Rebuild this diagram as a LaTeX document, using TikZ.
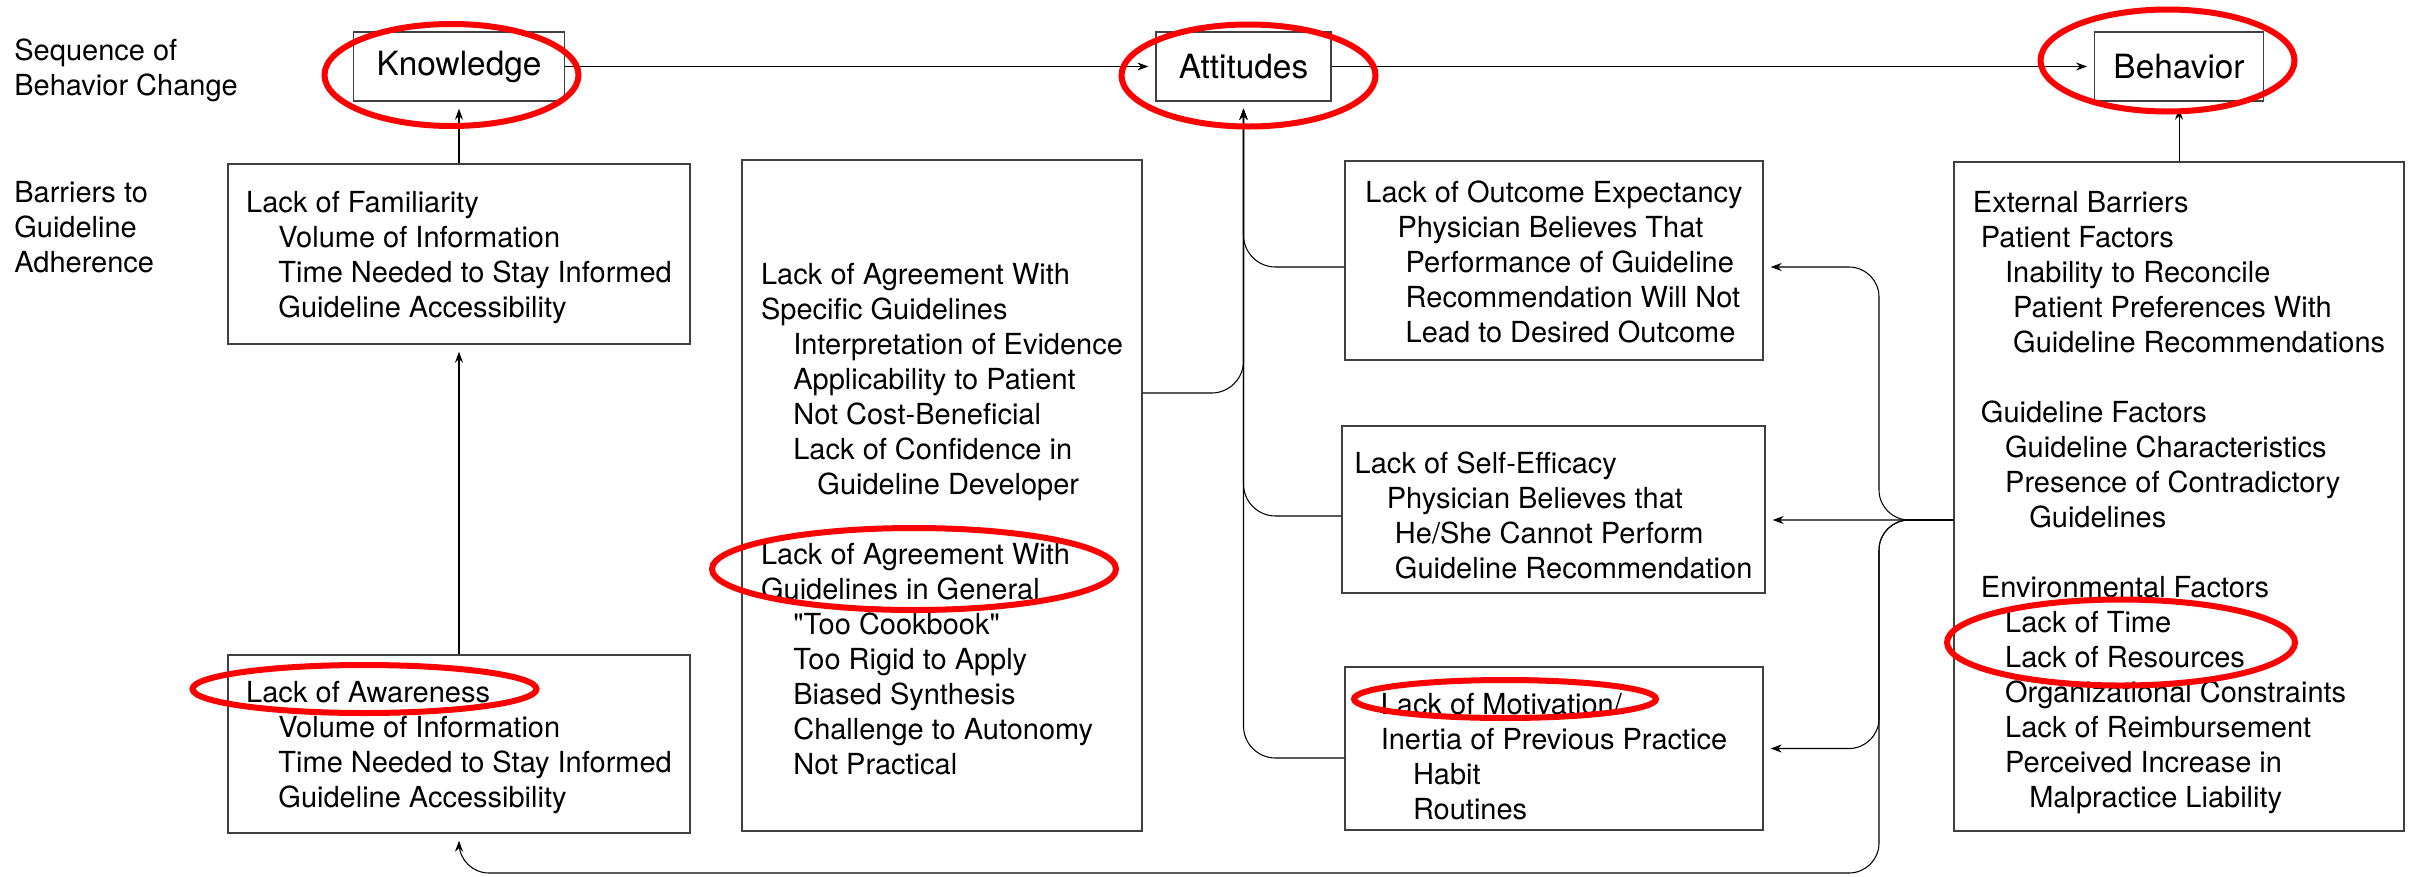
\documentclass[tikz,border=0pt]{standalone}
\usepackage{fontspec}
\setmainfont{TeX Gyre Heros}
\usetikzlibrary{arrows.meta}
\newcommand{\lvl}[1]{\hspace*{#1\fontdimen2\font}}

\begin{document}
\begin{tikzpicture}[x=0.02cm,y=-0.02cm]

\tikzset{box/.style = {shape=rectangle,draw=black!75,line width=0.8pt,align=left,inner sep=0pt,font=\fontsize{16.5}{19.92}\selectfont}}
\tikzset{stage/.style = {shape=rectangle,draw=black!75,line width=0.8pt,inner sep=0pt,minimum height=1.38cm,font=\fontsize{19}{23}\selectfont}}
\tikzset{lbl/.style = {anchor=north west,inner sep=0pt,align=left,font=\fontsize{16.5}{19.92}\selectfont}}
\tikzset{edge/.style = {-{Stealth[length=0.22cm,width=0.16cm]},line width=0.6pt,shorten >=0.14cm}}
\tikzset{ring/.style = {draw=red,line width=0.12cm}}

\useasboundingbox (0,0) rectangle (2417,876);

% row labels
\node[lbl] (seq) at (14,38) {Sequence of\\Behavior Change};
\node[lbl] (bar) at (14,181) {Barriers to\\Guideline\\Adherence};

% stages
\node[stage,minimum width=4.22cm] (know) at (459,66.5) {Knowledge};
\node[stage,minimum width=3.5cm] (att) at (1243.5,66.5) {Attitudes};
\node[stage,minimum width=3.37cm] (beh) at (2179,66.5) {Behavior};

% barriers
\node[box,minimum width=9.24cm,minimum height=3.6cm] (fam) at (459,254) {\rule{0pt}{0.56cm}Lack of Familiarity\\\lvl3 Volume of Information\\\lvl3 Time Needed to Stay Informed\\\lvl3 Guideline Accessibility};
\node[box,minimum width=9.24cm,minimum height=3.56cm] (awa) at (459,744) {\rule{0pt}{0.58cm}Lack of Awareness\\\lvl3 Volume of Information\\\lvl3 Time Needed to Stay Informed\\\lvl3 Guideline Accessibility};
\node[box,minimum width=8cm,minimum height=13.42cm] (agr) at (942,495.5) {\rule{0pt}{1.36cm}Lack of Agreement With\\Specific Guidelines\\\lvl3 Interpretation of Evidence\\\lvl3 Applicability to Patient\\\lvl3 Not Cost-Beneficial\\\lvl3 Lack of Confidence in\\\lvl6 Guideline Developer\\[0.7cm]Lack of Agreement With\\Guidelines in General\\\lvl3 \textquotedbl Too Cookbook\textquotedbl\\\lvl3 Too Rigid to Apply\\\lvl3 Biased Synthesis\\\lvl3 Challenge to Autonomy\\\lvl3 Not Practical};
\node[box,minimum width=8.36cm,minimum height=3.98cm] (out) at (1554,260.5) {\rule{0pt}{0.5cm}Lack of Outcome Expectancy\\\lvl3 Physician Believes That\\\lvl4 Performance of Guideline\\\lvl4 Recommendation Will Not\\\lvl4 Lead to Desired Outcome};
\node[box,minimum width=8.46cm,minimum height=3.34cm] (eff) at (1553.5,509.5) {\rule{0pt}{0.66cm}Lack of Self-Efficacy\\\lvl3 Physician Believes that\\\lvl4 He/She Cannot Perform\\\lvl4 Guideline Recommendation};
\node[box,minimum width=8.36cm,minimum height=3.26cm] (mot) at (1554,748.5) {\rule{0pt}{0.73cm}Lack of Motivation/\\Inertia of Previous Practice\\\lvl3 Habit\\\lvl3 Routines};
\node[box,minimum width=9cm,minimum height=13.38cm] (ext) at (2179,496.5) {\rule{0pt}{0.66cm}External Barriers\\\lvl0 Patient Factors\\\lvl3 Inability to Reconcile\\\lvl4 Patient Preferences With\\\lvl4 Guideline Recommendations\\[0.7cm]\lvl0 Guideline Factors\\\lvl3 Guideline Characteristics\\\lvl3 Presence of Contradictory\\\lvl6 Guidelines\\[0.7cm]\lvl0 Environmental Factors\\\lvl3 Lack of Time\\\lvl3 Lack of Resources\\\lvl3 Organizational Constraints\\\lvl3 Lack of Reimbursement\\\lvl3 Perceived Increase in\\\lvl6 Malpractice Liability};

\coordinate (split) at (1879,520);
\coordinate (turn) at (1879,873);

%edges
\draw[edge] (know) -- (att);
\draw[edge] (att) -- (beh);
\draw[edge] (fam) -- (know);
\draw[edge] (awa) -- (fam);
\draw[edge] (ext) -- (beh);

\draw[edge,rounded corners=0.64cm] ([yshift=-0.13cm]out.west) -| (att.south);
\draw[edge,rounded corners=0.64cm] ([yshift=2.05cm]agr.east) -| (att.south);
\draw[edge,rounded corners=0.64cm] ([yshift=-0.13cm]eff.west) -| (att.south);
\draw[edge,rounded corners=0.64cm] ([yshift=-0.19cm]mot.west) -| (att.south);

\draw[edge] ([yshift=-0.47cm]ext.west) -- (eff.east |- split);
\draw[edge,rounded corners=0.6cm] ([yshift=-0.47cm]ext.west) -- (split) |- ([yshift=-0.13cm]out.east);
\draw[edge,rounded corners=0.6cm] ([yshift=-0.47cm]ext.west) -- (split) |- (mot.east);
\draw[edge,rounded corners=0.6cm] ([yshift=-0.47cm]ext.west) -- (split) -- (turn) -| (awa.south);

% highlights
\draw[ring] (451.5,75) ellipse (127 and 51);
\draw[ring] (1248.5,75.5) ellipse (127 and 51);
\draw[ring] (2167.5,60.5) ellipse (127 and 51);
\draw[ring] (364.5,689) ellipse (172 and 24);
\draw[ring] (914,569) ellipse (202 and 41);
\draw[ring] (1505,699) ellipse (151 and 19);
\draw[ring] (2121,642.5) ellipse (174 and 43);

\end{tikzpicture}
\end{document}
